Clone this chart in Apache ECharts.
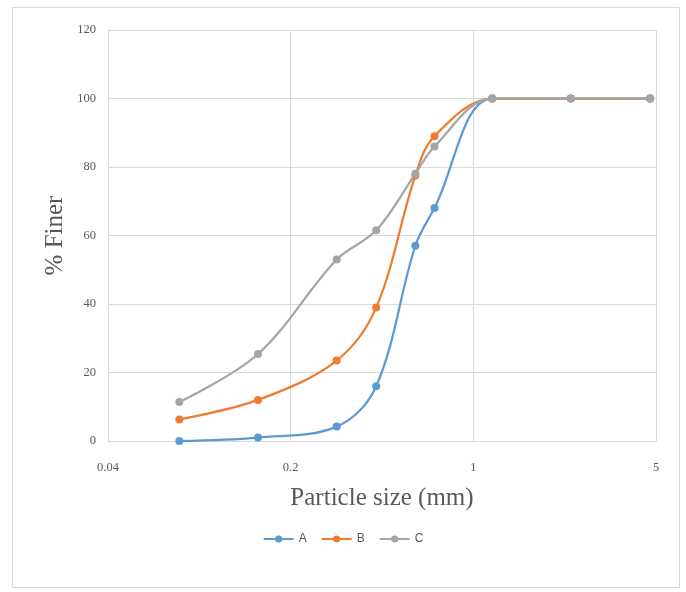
<!DOCTYPE html>
<html>
<head>
<meta charset="utf-8">
<script src="https://cdn.jsdelivr.net/npm/echarts@6/dist/echarts.min.js"></script>
<style>
html,body{margin:0;padding:0;background:#fff;}
#chart{width:686px;height:592px;}
</style>
</head>
<body>
<div id="chart"></div>
<script>
var sizes = [0.075, 0.15, 0.3, 0.425, 0.6, 0.71, 1.18, 2.36, 4.75];
var seriesA = [0, 1, 4.2, 16, 57, 68, 100, 100, 100];
var seriesB = [6.3, 12, 23.5, 39, 77.5, 89, 100, 100, 100];
var seriesC = [11.4, 25.4, 53, 61.5, 78, 86, 100, 100, 100];
var seriesNames = ['A', 'B', 'C'];
var colors = ['#5B9BD5', '#ED7D31', '#A5A5A5'];
var xTicks = [0.04, 0.2, 1, 5];

function pairs(vals){ return sizes.map(function(s,i){ return [s, vals[i]]; }); }
var allVals = [seriesA, seriesB, seriesC];

var chart = echarts.init(document.getElementById('chart'), null, {renderer:'canvas'});
var labelFont = {color:'#595959', fontSize:12.5, fontFamily:'Liberation Serif'};
chart.setOption({
  animation:false,
  backgroundColor:'#fff',
  graphic:[{type:'rect', shape:{x:12.5, y:7.5, width:667, height:580}, style:{fill:'none', stroke:'#D9D9D9', lineWidth:1}, z:-1}],
  grid:{left:108, right:30, top:30, bottom:151},
  legend:{
    data:seriesNames, top:528, left:'center', itemWidth:30, itemHeight:9, itemGap:14,
    textStyle:{color:'#595959', fontSize:12, fontFamily:'Liberation Sans Narrow, Liberation Sans'}
  },
  xAxis:{
    type:'log', logBase:5, min:0.04, max:5,
    name:'Particle size (mm)', nameLocation:'middle', nameGap:45, nameMoveOverlap:false,
    nameTextStyle:{color:'#595959', fontSize:25, fontFamily:'Liberation Serif'},
    axisLine:{show:true, lineStyle:{color:'#D9D9D9'}},
    axisTick:{show:false},
    minorTick:{show:false},
    splitLine:{show:true, lineStyle:{color:'#D9D9D9', width:1}},
    axisLabel:Object.assign({margin:20, formatter:function(v){
      var best = xTicks.reduce(function(a,b){return Math.abs(Math.log(b)-Math.log(v))<Math.abs(Math.log(a)-Math.log(v))?b:a;});
      return String(best);
    }}, labelFont)
  },
  yAxis:{
    type:'value', min:0, max:120, interval:20,
    name:'% Finer', nameLocation:'middle', nameGap:40, nameRotate:90, nameMoveOverlap:false,
    nameTextStyle:{color:'#595959', fontSize:25, fontFamily:'Liberation Serif'},
    axisLine:{show:true, lineStyle:{color:'#D9D9D9'}},
    axisTick:{show:false},
    splitLine:{show:true, lineStyle:{color:'#D9D9D9', width:1}},
    axisLabel:Object.assign({margin:12}, labelFont)
  },
  series: seriesNames.map(function(n,i){
    return {
      name:n, type:'line', data:pairs(allVals[i]), smooth:0.35,
      symbol:'circle', symbolSize:8,
      lineStyle:{color:colors[i], width:2.25},
      itemStyle:{color:colors[i]},
      z:2+i
    };
  })
});
</script>
</body>
</html>
